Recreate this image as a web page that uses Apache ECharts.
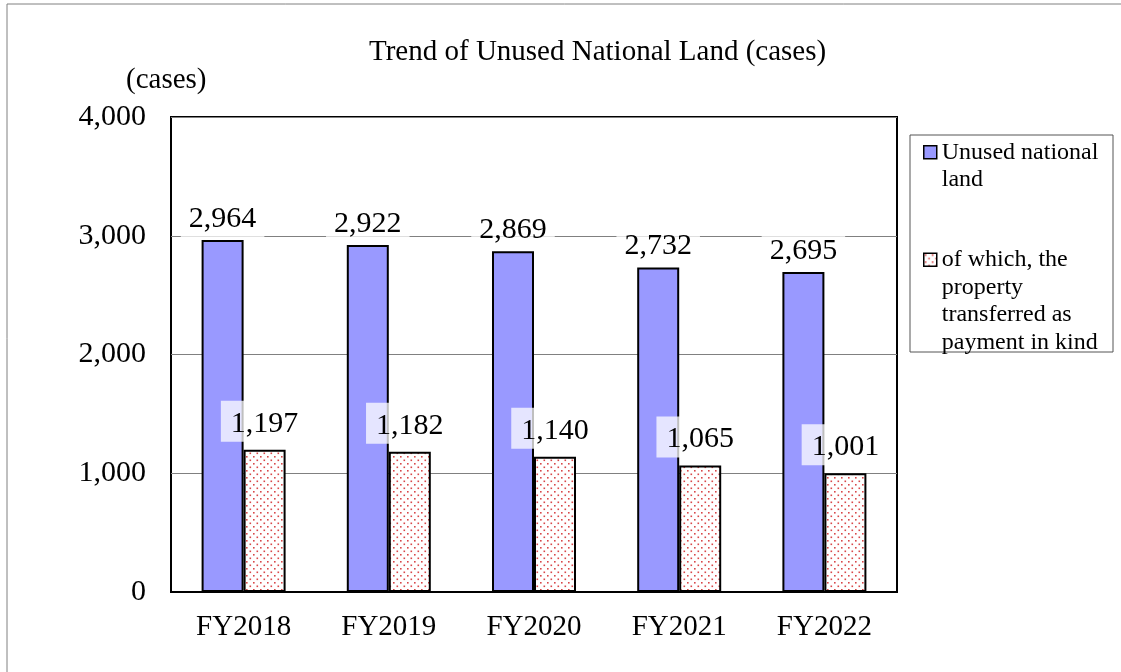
<!DOCTYPE html>
<html><head><meta charset="utf-8">
<script src="https://cdn.jsdelivr.net/npm/echarts@6/dist/echarts.min.js"></script>
<style>html,body{margin:0;padding:0;background:#fff}#c{width:1121px;height:672px}</style>
</head><body><div id="c"></div>
<script>
const categories = ['FY2018','FY2019','FY2020','FY2021','FY2022'];
const unusedLand = [2964, 2922, 2869, 2732, 2695];
const paymentInKind = [1197, 1182, 1140, 1065, 1001];
const seriesNames = ['Unused national land', 'of which, the property transferred as payment in kind'];
const legendLabels = ['\nUnused national\nland', '\n\n\nof which, the\nproperty\ntransferred as\npayment in kind'];

const FONT = '"Liberation Serif", "Times New Roman", serif';

const pc = document.createElement('canvas');
pc.width = 7; pc.height = 7;
const px = pc.getContext('2d');
px.fillStyle = '#ffffff'; px.fillRect(0,0,7,7);
px.fillStyle = '#d8484a';
px.fillRect(1,1,1.6,1.6);
px.fillRect(4.5,4.5,1.6,1.6);

const fmt = v => Number(v).toLocaleString('en-US');
const chart = echarts.init(document.getElementById('c'));
chart.setOption({
  animation: false,
  backgroundColor: '#fff',
  title: [
    {text: 'Trend of Unused National Land (cases)', left: 364, top: 33,
     textStyle: {fontFamily: FONT, fontSize: 29, fontWeight: 'normal', color: '#000'}},
    {text: '(cases)', left: 121, top: 61,
     textStyle: {fontFamily: FONT, fontSize: 29, fontWeight: 'normal', color: '#000'}}
  ],
  graphic: [
    {type: 'rect', shape: {x: 7, y: 4, width: 1200, height: 700}, silent: true, z: -10,
     style: {fill: 'none', stroke: '#808080', lineWidth: 1}},
    {type: 'rect', shape: {x: 910, y: 135, width: 203, height: 217}, silent: true,
     style: {fill: 'none', stroke: '#555', lineWidth: 1}}
  ],
  legend: {
    orient: 'vertical', left: 923, top: 111, padding: 0,
    itemWidth: 13, itemHeight: 13, itemGap: -30,
    icon: 'rect',
    data: seriesNames,
    formatter: n => legendLabels[seriesNames.indexOf(n)],
    textStyle: {fontFamily: FONT, fontSize: 24, lineHeight: 27.5, color: '#000'},
    itemStyle: {borderColor: '#000', borderWidth: 1.5}
  },
  grid: {left: 171, top: 117, right: 224, bottom: 80, show: true, borderColor: '#000', borderWidth: 2, backgroundColor: '#fff'},
  xAxis: {
    type: 'category', data: categories,
    axisLine: {lineStyle: {color: '#000', width: 2}},
    axisTick: {inside: true, length: 6, lineStyle: {color: '#808080'}},
    axisLabel: {fontFamily: FONT, fontSize: 29, color: '#000', margin: 21}
  },
  yAxis: {
    type: 'value', min: 0, max: 4000, interval: 1000,
    axisLine: {show: false}, axisTick: {show: false},
    splitLine: {lineStyle: {color: '#808080', width: 1}},
    axisLabel: {fontFamily: FONT, fontSize: 30, color: '#000', margin: 25, formatter: fmt}
  },
  series: [
    {name: seriesNames[0], type: 'bar', data: unusedLand, barWidth: 42, barGap: '0%',
     itemStyle: {color: '#9999ff', borderColor: '#000', borderWidth: 2},
     label: {show: true, position: 'top', distance: 2, formatter: p => fmt(p.value),
       fontFamily: FONT, fontSize: 30, lineHeight: 28, color: '#000',
       backgroundColor: 'rgba(255,255,255,0.75)', padding: [5,8]}},
    {name: seriesNames[1], type: 'bar', data: paymentInKind, barWidth: 42,
     itemStyle: {color: {image: pc, repeat: 'repeat'}, borderColor: '#000', borderWidth: 2},
     label: {show: true, position: 'top', distance: 8, formatter: p => fmt(p.value),
       fontFamily: FONT, fontSize: 30, lineHeight: 28, color: '#000',
       backgroundColor: 'rgba(255,255,255,0.75)', padding: [9,10,4,10]}}
  ]
});
</script></body></html>
